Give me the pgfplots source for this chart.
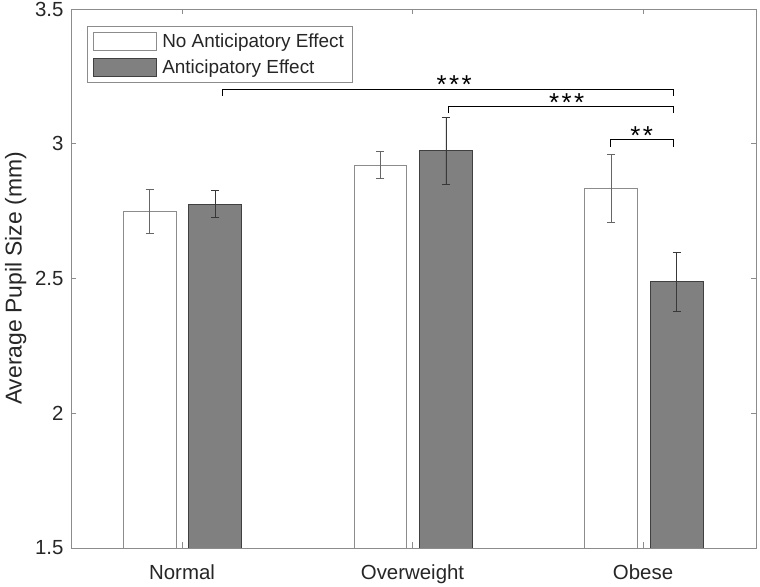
\documentclass[border=0pt]{standalone}
\usepackage{pgfplots}
\pgfplotsset{compat=1.18}
\usepackage{fontspec}
\setmainfont{Liberation Sans}
\definecolor{axgray}{HTML}{8C8C8C}
\definecolor{bargray}{HTML}{808080}
\definecolor{edgedark}{HTML}{404040}
\definecolor{txt}{HTML}{262626}
\begin{document}
\begin{tikzpicture}
\path[use as bounding box] (-71bp,-39bp) rectangle (689bp,548bp);
\begin{axis}[
  scale only axis, width=685bp, height=539bp,
  anchor=south west, at={(0,0)},
  xmin=0.5184, xmax=3.490, ymin=1.5, ymax=3.5,
  xtick={1,2,3}, xticklabels={Normal,Overweight,Obese},
  ytick={1.5,2,2.5,3,3.5}, yticklabels={1.5,2,2.5,3,3.5},
  tick align=inside, major tick length=5.5bp,
  axis on top,
  axis line style={axgray, line width=0.8bp},
  every tick/.style={axgray, line width=0.8bp},
  ticklabel style={text=txt, font=\fontsize{20.5}{24}\selectfont},
  xticklabel style={anchor=base, yshift=-31.3bp},
  yticklabel style={anchor=east, xshift=-4bp},
  ylabel={Average Pupil Size (mm)},
  ylabel style={at={(axis description cs:0,0.5)}, anchor=base, yshift=49.3bp, text=txt, font=\fontsize{23}{26}\selectfont},
  legend cell align=left,
  legend style={at={(0,1)}, anchor=north west, xshift=15.7bp, yshift=-17bp,
    draw=axgray, line width=0.8bp, fill=white, text=txt,
    font=\fontsize{19}{22}\selectfont, inner xsep=6.2bp, inner ysep=5.5bp, row sep=6.5bp,
    /tikz/every odd column/.append style={column sep=3.5bp}},
]
\addplot[ybar, bar width=0.2286, bar shift=0pt, fill=white, draw=axgray, line width=0.8bp,
  legend image code/.code={\draw[fill=white, draw=axgray, line width=0.8bp] (0bp,-9.15bp) rectangle (62.7bp,9.15bp);},
  error bars/.cd, y dir=both, y explicit,
  error bar style={black!60, line width=0.8bp},
  error mark options={rotate=90, mark size=4.2bp, black!60, line width=0.8bp}]
  coordinates {(0.860,2.750) +- (0,0.081) (1.860,2.921) +- (0,0.051) (2.861,2.835) +- (0,0.125)};
\addlegendentry{No Anticipatory Effect}
\addplot[ybar, bar width=0.2300, bar shift=0pt, fill=bargray, draw=edgedark, line width=0.8bp,
  legend image code/.code={\draw[fill=bargray, draw=edgedark, line width=0.8bp] (0bp,-9.15bp) rectangle (62.7bp,9.15bp);},
  error bars/.cd, y dir=both, y explicit,
  error bar style={black!78, line width=0.8bp},
  error mark options={rotate=90, mark size=4.2bp, black!78, line width=0.8bp}]
  coordinates {(1.144,2.776) +- (0,0.050) (2.145,2.974) +- (0,0.123) (3.146,2.488) +- (0,0.109)};
\addlegendentry{Anticipatory Effect}
\addplot[black, line width=1bp, forget plot, mark=none] coordinates {(1.175,3.179) (1.175,3.202) (3.131,3.202) (3.131,3.179)};
\addplot[black, line width=1bp, forget plot, mark=none] coordinates {(2.155,3.113) (2.155,3.137) (3.131,3.137) (3.131,3.113)};
\addplot[black, line width=1bp, forget plot, mark=none] coordinates {(2.860,2.989) (2.860,3.014) (3.131,3.014) (3.131,2.989)};
\node[anchor=base, text=black, font=\fontsize{26}{28}\selectfont] at (axis cs:2.181,3.187) {*\kern2.4bp*\kern2.4bp*};
\node[anchor=base, text=black, font=\fontsize{26}{28}\selectfont] at (axis cs:2.669,3.120) {*\kern2.4bp*\kern2.4bp*};
\node[anchor=base, text=black, font=\fontsize{26}{28}\selectfont] at (axis cs:2.994,2.998) {*\kern2.4bp*};
\end{axis}
\end{tikzpicture}
\end{document}
